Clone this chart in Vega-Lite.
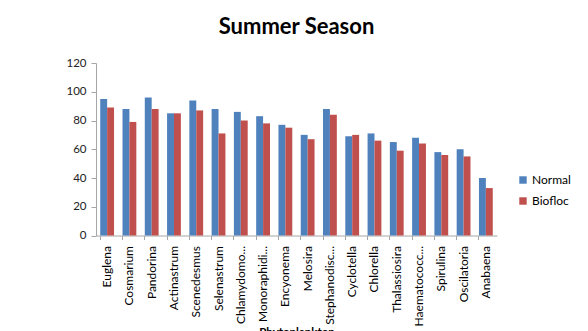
{
  "$schema": "https://vega.github.io/schema/vega-lite/v6.json",
  "autosize": "none",
  "width": 401,
  "height": 172.5,
  "padding": {"left": 96, "top": 63, "right": 91, "bottom": 96},
  "background": "white",
  "title": {"text": "Summer Season", "font": "Lato", "fontSize": 22, "fontWeight": "bold", "color": "#000000", "anchor": "middle", "frame": "group", "offset": 18},
  "data": {"values": [
    {"Phytoplankton": "Euglena", "Series": "Normal", "Value": 95},
    {"Phytoplankton": "Euglena", "Series": "Biofloc", "Value": 89},
    {"Phytoplankton": "Cosmarium", "Series": "Normal", "Value": 88},
    {"Phytoplankton": "Cosmarium", "Series": "Biofloc", "Value": 79},
    {"Phytoplankton": "Pandorina", "Series": "Normal", "Value": 96},
    {"Phytoplankton": "Pandorina", "Series": "Biofloc", "Value": 88},
    {"Phytoplankton": "Actinastrum", "Series": "Normal", "Value": 85},
    {"Phytoplankton": "Actinastrum", "Series": "Biofloc", "Value": 85},
    {"Phytoplankton": "Scenedesmus", "Series": "Normal", "Value": 94},
    {"Phytoplankton": "Scenedesmus", "Series": "Biofloc", "Value": 87},
    {"Phytoplankton": "Selenastrum", "Series": "Normal", "Value": 88},
    {"Phytoplankton": "Selenastrum", "Series": "Biofloc", "Value": 71},
    {"Phytoplankton": "Chlamydomo...", "Series": "Normal", "Value": 86},
    {"Phytoplankton": "Chlamydomo...", "Series": "Biofloc", "Value": 80},
    {"Phytoplankton": "Monoraphidi...", "Series": "Normal", "Value": 83},
    {"Phytoplankton": "Monoraphidi...", "Series": "Biofloc", "Value": 78},
    {"Phytoplankton": "Encyonema", "Series": "Normal", "Value": 77},
    {"Phytoplankton": "Encyonema", "Series": "Biofloc", "Value": 75},
    {"Phytoplankton": "Melosira", "Series": "Normal", "Value": 70},
    {"Phytoplankton": "Melosira", "Series": "Biofloc", "Value": 67},
    {"Phytoplankton": "Stephanodisc...", "Series": "Normal", "Value": 88},
    {"Phytoplankton": "Stephanodisc...", "Series": "Biofloc", "Value": 84},
    {"Phytoplankton": "Cyclotella", "Series": "Normal", "Value": 69},
    {"Phytoplankton": "Cyclotella", "Series": "Biofloc", "Value": 70},
    {"Phytoplankton": "Chlorella", "Series": "Normal", "Value": 71},
    {"Phytoplankton": "Chlorella", "Series": "Biofloc", "Value": 66},
    {"Phytoplankton": "Thalassiosira", "Series": "Normal", "Value": 65},
    {"Phytoplankton": "Thalassiosira", "Series": "Biofloc", "Value": 59},
    {"Phytoplankton": "Haematococc...", "Series": "Normal", "Value": 68},
    {"Phytoplankton": "Haematococc...", "Series": "Biofloc", "Value": 64},
    {"Phytoplankton": "Spirulina", "Series": "Normal", "Value": 58},
    {"Phytoplankton": "Spirulina", "Series": "Biofloc", "Value": 56},
    {"Phytoplankton": "Oscilatoria", "Series": "Normal", "Value": 60},
    {"Phytoplankton": "Oscilatoria", "Series": "Biofloc", "Value": 55},
    {"Phytoplankton": "Anabaena", "Series": "Normal", "Value": 40},
    {"Phytoplankton": "Anabaena", "Series": "Biofloc", "Value": 33}
  ]},
  "mark": {"type": "bar"},
  "encoding": {
    "x": {
      "field": "Phytoplankton", "type": "nominal", "sort": null,
      "scale": {"paddingInner": 0.38, "paddingOuter": 0.19},
      "axis": {
        "title": "Phytoplankton", "titleFont": "Lato", "titleFontSize": 11.5, "titleFontWeight": "bold", "titleColor": "#000000", "titlePadding": 1,
        "labelAngle": -90, "labelFont": "Lato", "labelFontSize": 12, "labelColor": "#000000", "labelPadding": 6, "labelLimit": 200,
        "domainColor": "#a6a6a6", "tickColor": "#a6a6a6", "tickSize": 4, "bandPosition": 0, "grid": false
      }
    },
    "xOffset": {"field": "Series", "type": "nominal", "sort": ["Normal", "Biofloc"], "scale": {"paddingInner": 0, "paddingOuter": 0}},
    "y": {
      "field": "Value", "type": "quantitative",
      "scale": {"domain": [0, 120], "nice": false},
      "axis": {
        "title": null, "values": [0, 20, 40, 60, 80, 100, 120], "grid": false,
        "labelFont": "Lato", "labelFontSize": 11.5, "labelColor": "#222222", "labelPadding": 5,
        "domainColor": "#a6a6a6", "tickColor": "#a6a6a6", "tickSize": 5
      }
    },
    "color": {
      "field": "Series", "type": "nominal", "sort": ["Normal", "Biofloc"],
      "scale": {"domain": ["Normal", "Biofloc"], "range": ["#4F81BD", "#C0504D"]},
      "legend": {
        "title": null, "orient": "none", "legendX": 421, "legendY": 111,
        "symbolType": "square", "symbolSize": 55, "symbolStrokeWidth": 0,
        "labelFont": "Lato", "labelFontSize": 12, "labelColor": "#000000", "labelOffset": 3,
        "rowPadding": 9
      }
    }
  },
  "config": {"view": {"stroke": null}}
}
